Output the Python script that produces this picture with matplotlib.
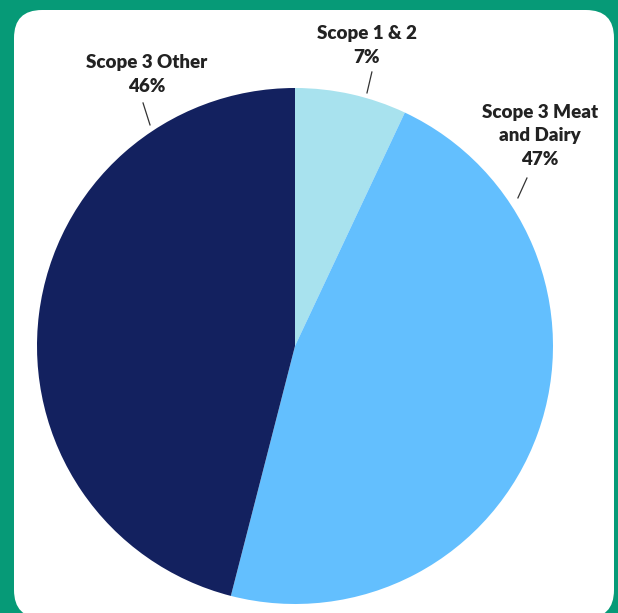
import matplotlib.pyplot as plt
from matplotlib.patches import FancyBboxPatch
from matplotlib.transforms import IdentityTransform

# Chart data
categories = ['Scope 1 & 2', 'Scope 3 Meat\nand Dairy', 'Scope 3 Other']
shares = [7, 47, 46]
colors = ['#A8E2EE', '#63BFFE', '#13215F']

# label placement (data coords, pie radius = 1)
label_pos = [(0.279, 1.165), (0.950, 0.814), (-0.574, 1.052)]
leader_lines = [((0.298, 1.062), (0.279, 0.981)),
                ((0.899, 0.651), (0.864, 0.574)),
                ((-0.589, 0.942), (-0.562, 0.857))]

W, H, dpi = 618, 613, 100
fig = plt.figure(figsize=(W / dpi, H / dpi), dpi=dpi, facecolor='#069A77')

# white rounded panel (pixel coords)
panel = FancyBboxPatch((14, -5), 600, 608, boxstyle='round,pad=0,rounding_size=28',
                       facecolor='white', edgecolor='none', transform=IdentityTransform(),
                       zorder=-1)
fig.add_artist(panel)

# pie centre (295, 346) px from top-left, radius 258 px
cx, cy, r = 295, 346, 258
ax = fig.add_axes([(cx - r) / W, (H - cy - r) / H, 2 * r / W, 2 * r / H])
ax.pie(shares, colors=colors, startangle=90, counterclock=False, radius=1,
       wedgeprops=dict(linewidth=0))
ax.set_xlim(-1, 1)
ax.set_ylim(-1, 1)
ax.set_aspect('equal')
ax.axis('off')

for cat, val, (tx, ty), (p0, p1) in zip(categories, shares, label_pos, leader_lines):
    ax.text(tx, ty, f'{cat}\n{val}%', ha='center', va='center', fontsize=13.5,
            fontweight='heavy', family='Lato', color='#222222', linespacing=1.45,
            clip_on=False)
    ax.plot([p0[0], p1[0]], [p0[1], p1[1]], color='#333333', lw=0.9, clip_on=False)

fig.savefig('out.png', dpi=dpi, facecolor=fig.get_facecolor())
